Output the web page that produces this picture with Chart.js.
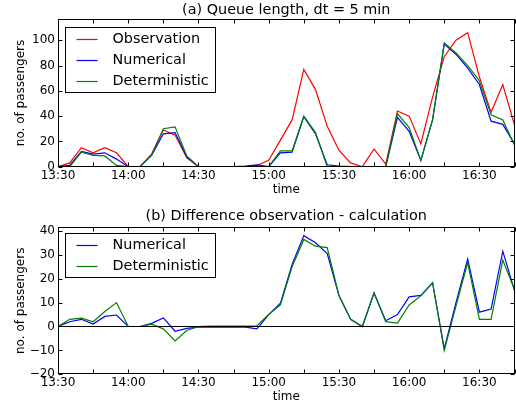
<!DOCTYPE html>
<html>
<head>
<meta charset="utf-8">
<script src="https://cdn.jsdelivr.net/npm/chart.js@4.4.1/dist/chart.umd.min.js"></script>
<style>
body { margin: 0; background: #fff; }
canvas { display: block; }
</style>
</head>
<body>
<canvas id="queueChart" width="516" height="200"></canvas>
<canvas id="diffChart" width="516" height="205"></canvas>
<script>
// time stamps, 5 minute steps
const times = [
    '13:30', '13:35', '13:40', '13:45', '13:50', '13:55',
    '14:00', '14:05', '14:10', '14:15', '14:20', '14:25',
    '14:30', '14:35', '14:40', '14:45', '14:50', '14:55',
    '15:00', '15:05', '15:10', '15:15', '15:20', '15:25',
    '15:30', '15:35', '15:40', '15:45', '15:50', '15:55',
    '16:00', '16:05', '16:10', '16:15', '16:20', '16:25',
    '16:30', '16:35', '16:40', '16:45'
];

// (a) queue length
const observation = [
    0, 3, 15, 11, 15, 11, 0, 0, 10, 29, 25, 7,
    0, 0, 0, 0, 0, 1, 5, 21, 37, 77, 61, 32,
    13, 3, 0, 14, 2, 44, 40, 18, 55, 87, 100, 106,
    71, 43, 65, 33
];
const numerical = [
    0, 1, 12, 10, 11, 6, 0, 0, 9, 26, 27, 8,
    0, 0, 0, 0, 0.5, 1.5, 0, 11, 11.5, 39.5, 26, 1.5,
    0.5, 0, 0, 0, 0, 39, 28, 5, 37, 97, 89, 78,
    65, 36, 33.5, 18
];
const deterministic = [
    0, 0, 11.5, 9, 8.5, 1, 0, 0, 9.5, 30, 31.5, 8.5,
    0, 0, 0, 0, 0, 0, 0, 12.5, 12.5, 40, 27, 0,
    0, 0, 0, 0, 0, 42, 31, 5, 37, 98, 90, 80,
    68, 41, 37, 17
];

// (b) observation - calculation
const diffNumerical = [
    0, 2, 3, 1, 4.2, 4.8, 0, 0, 1.3, 3.6, -2, -0.8,
    -0.3, -0.3, -0.3, -0.3, -0.3, -1, 5, 9.7, 26, 38, 35, 30.5,
    13, 3, 0, 14, 2.4, 5, 12.4, 13, 18.3, -9.3, 10, 28.2,
    6, 7.3, 31.5, 15
];
const diffDeterministic = [
    0, 3, 3.5, 2, 6.3, 10, 0, 0, 1, -1, -6, -1.7,
    0, 0.2, 0.2, 0.2, 0.2, 0.3, 5, 9, 25, 36.4, 33.6, 33,
    13, 3, 0, 14, 2, 1.4, 9, 12.8, 18.3, -10, 8.5, 26.7,
    3, 3, 27.8, 15.5
];

const yTicksQueue = [0, 20, 40, 60, 80, 100];
const yTicksDiff = [-20, -10, 0, 10, 20, 30, 40];
const queueMax = 116.6;
const diffMin = -20, diffMax = 41.5;

Chart.defaults.font.family = "'DejaVu Sans', sans-serif";
Chart.defaults.color = '#000';

const toMin = (t) => {
    const [h, m] = t.split(':').map(Number);
    return h * 60 + m;
};
const t0 = toMin(times[0]);
const tEnd = toMin(times[times.length - 1]) - t0;

const fmtTime = (v) => {
    const m = t0 + v;
    return Math.floor(m / 60) + ':' + String(m % 60).padStart(2, '0');
};

const points = (arr) => arr.map((v, i) => ({ x: toMin(times[i]) - t0, y: v }));

// spines, inward ticks and optional zero line, matplotlib style
const axesBox = {
    id: 'axesBox',
    afterDatasetsDraw(chart, args, opts) {
        const { ctx, chartArea: a, scales: { x, y } } = chart;
        const L = Math.round(a.left) + 0.5;
        const R = Math.round(a.right) - 0.5;
        const T = Math.round(a.top) + 0.5;
        const B = Math.round(a.bottom) - 0.5;
        const tl = 4;
        ctx.save();
        ctx.strokeStyle = '#000';
        ctx.lineWidth = 1;
        ctx.beginPath();
        if (opts.zeroLine) {
            const py = Math.round(y.getPixelForValue(0)) + 0.5;
            ctx.moveTo(L, py);
            ctx.lineTo(R, py);
        }
        x.ticks.forEach(t => {
            const px = Math.round(x.getPixelForValue(t.value)) + 0.5;
            ctx.moveTo(px, B); ctx.lineTo(px, B - tl);
            ctx.moveTo(px, T); ctx.lineTo(px, T + tl);
        });
        y.ticks.forEach(t => {
            const py = Math.round(y.getPixelForValue(t.value)) + 0.5;
            ctx.moveTo(L, py); ctx.lineTo(L + tl, py);
            ctx.moveTo(R, py); ctx.lineTo(R - tl, py);
        });
        ctx.stroke();
        ctx.strokeRect(L, T, R - L, B - T);
        ctx.restore();
    }
};

// legend box inside the upper left corner
const boxLegend = {
    id: 'boxLegend',
    afterDraw(chart, args, opts) {
        const { ctx, chartArea: a } = chart;
        const sets = chart.data.datasets;
        const rowH = 21;
        const left = Math.round(a.left + opts.dx) + 0.5;
        const top = Math.round(a.top + opts.dy) + 0.5;
        const w = 150;
        const h = rowH * sets.length + 2;
        ctx.save();
        ctx.fillStyle = '#fff';
        ctx.fillRect(left, top, w, h);
        ctx.strokeStyle = '#000';
        ctx.lineWidth = 1;
        ctx.strokeRect(left, top, w, h);
        ctx.font = "14.4px 'DejaVu Sans', sans-serif";
        ctx.textBaseline = 'middle';
        ctx.textAlign = 'left';
        sets.forEach((ds, i) => {
            const cy = top + 12 + i * rowH;
            ctx.strokeStyle = ds.borderColor;
            ctx.lineWidth = ds.borderWidth;
            ctx.beginPath();
            ctx.moveTo(left + 11, cy);
            ctx.lineTo(left + 32, cy);
            ctx.stroke();
            ctx.fillStyle = '#000';
            ctx.fillText(ds.label, left + 47, cy);
        });
        ctx.restore();
    }
};

const lineSet = (label, data, color, order) => ({
    label: label,
    data: points(data),
    borderColor: color,
    borderWidth: 1.2,
    pointRadius: 0,
    tension: 0,
    fill: false,
    order: order
});

const makeOptions = (title, pad, xHeight, xTitlePad, yMin, yMax, yTicks, zeroLine) => ({
    responsive: false,
    animation: false,
    layout: { padding: { top: pad.top, right: 1, bottom: 0, left: 0 } },
    scales: {
        x: {
            type: 'linear',
            min: 0,
            max: tEnd,
            grid: { display: false, drawTicks: false, tickLength: 0 },
            border: { display: false },
            afterFit: (s) => { s.height = xHeight; },
            ticks: {
                stepSize: 15,
                autoSkip: false,
                maxRotation: 0,
                padding: 1.5,
                font: { size: 12 },
                callback: (v) => (v % 30 === 0 ? fmtTime(v) : '')
            },
            title: {
                display: true,
                text: 'time',
                font: { size: 12 },
                padding: { top: 0, bottom: xTitlePad }
            }
        },
        y: {
            min: yMin,
            max: yMax,
            grid: { display: false, drawTicks: false, tickLength: 0 },
            border: { display: false },
            afterFit: (s) => { s.width = 58; },
            afterBuildTicks: (s) => { s.ticks = yTicks.map(v => ({ value: v })); },
            ticks: {
                padding: 3,
                font: { size: 12 },
                callback: (v) => String(v).replace('-', '\u2212')
            },
            title: {
                display: true,
                text: 'no. of passengers',
                font: { size: 12 },
                padding: { top: 14, bottom: 0 }
            }
        }
    },
    plugins: {
        legend: { display: false },
        tooltip: { enabled: false },
        title: {
            display: true,
            text: title,
            fullSize: false,
            color: '#000',
            font: { size: 14.4, weight: 'normal' },
            padding: { top: pad.titleTop, bottom: pad.titleBottom }
        },
        axesBox: { zeroLine: zeroLine },
        boxLegend: pad.legend
    }
});

const queueChart = new Chart(document.getElementById('queueChart'), {
    type: 'line',
    data: {
        datasets: [
            lineSet('Observation', observation, '#ff0000', 2),
            lineSet('Numerical', numerical, '#0000ff', 1),
            lineSet('Deterministic', deterministic, '#008000', 0)
        ]
    },
    options: makeOptions('(a) Queue length, dt = 5 min',
        { top: 0, titleTop: 1.4, titleBottom: 0.6, legend: { dx: 7, dy: 7.5 } },
        33.3, 2.8, 0, queueMax, yTicksQueue, false),
    plugins: [axesBox, boxLegend]
});

const diffChart = new Chart(document.getElementById('diffChart'), {
    type: 'line',
    data: {
        datasets: [
            lineSet('Numerical', diffNumerical, '#0000ff', 1),
            lineSet('Deterministic', diffDeterministic, '#008000', 0)
        ]
    },
    options: makeOptions('(b) Difference observation - calculation',
        { top: 6, titleTop: 1.4, titleBottom: 2.6, legend: { dx: 7, dy: 6 } },
        30.7, 1, diffMin, diffMax, yTicksDiff, true),
    plugins: [axesBox, boxLegend]
});
</script>
</body>
</html>
